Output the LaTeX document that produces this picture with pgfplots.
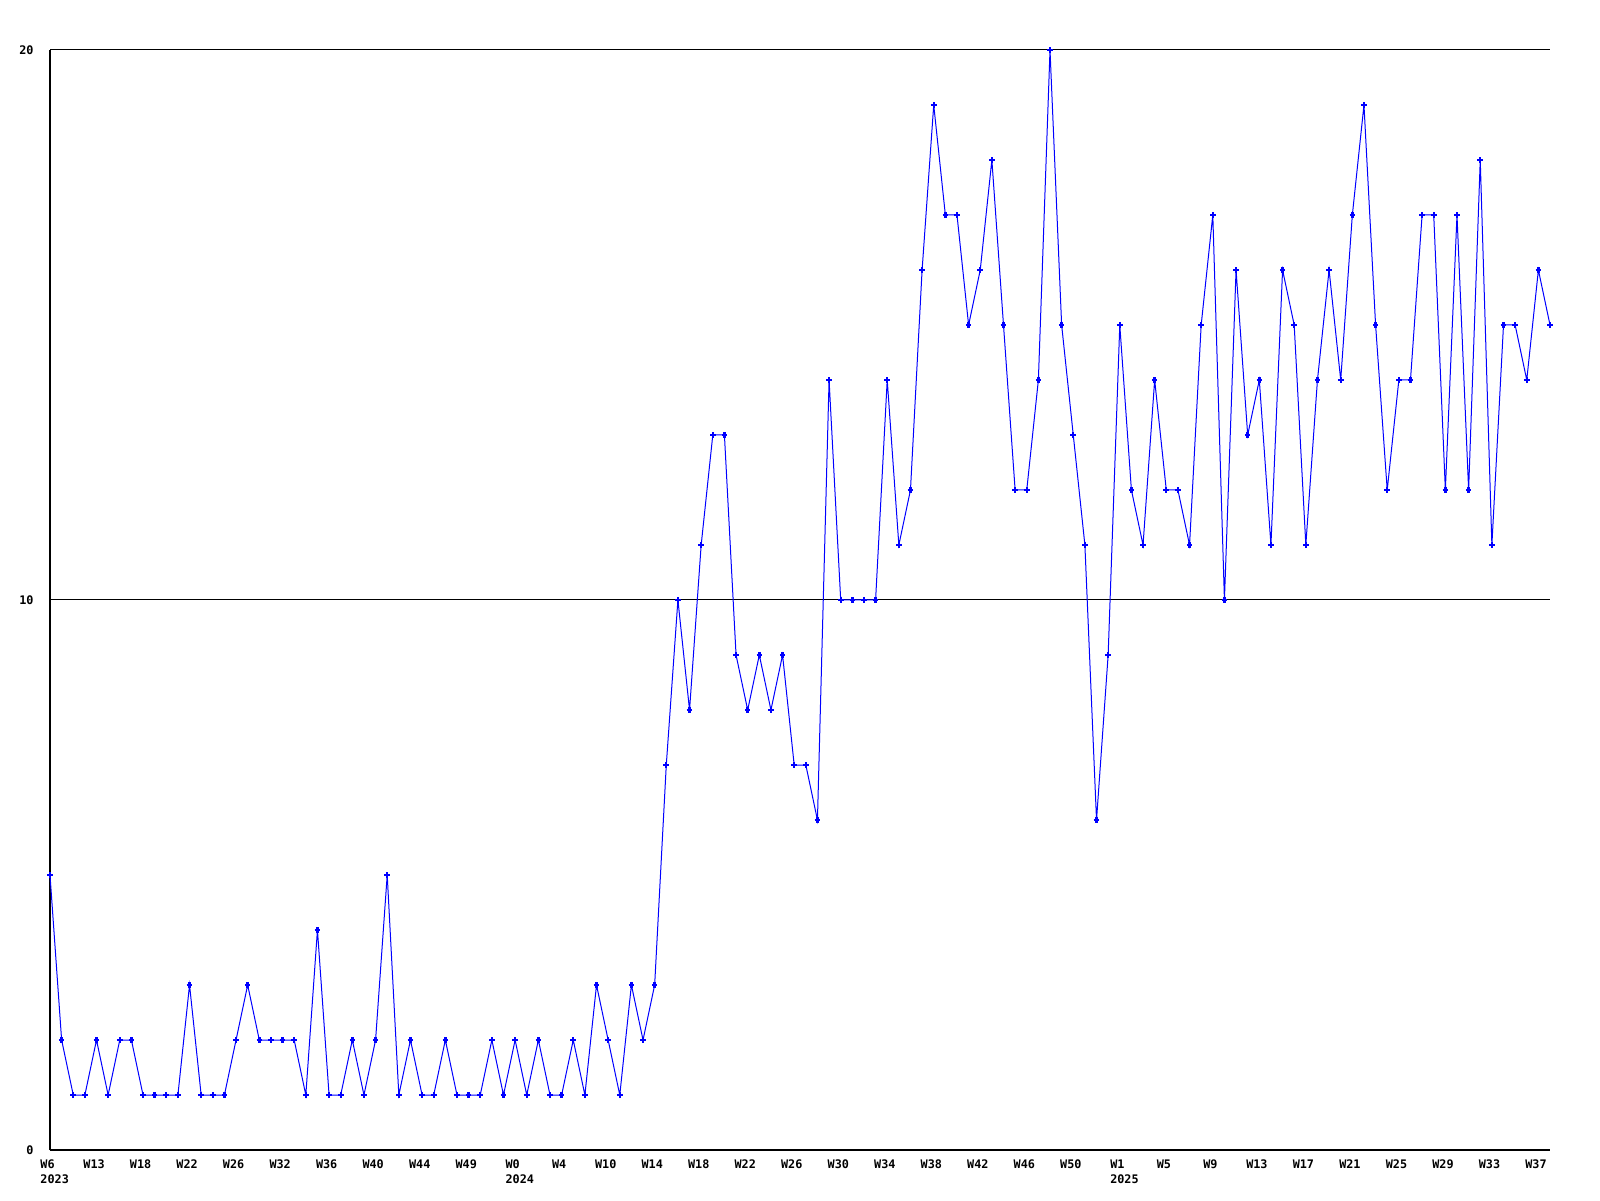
\documentclass[border=0pt]{standalone}
\usepackage{pgfplots}
\pgfplotsset{compat=1.18}
\usepackage{fontspec}
\setmonofont{DejaVu Sans Mono}
\pgfplotstableread{
x y
0 5
1 2
2 1
3 1
4 2
5 1
6 2
7 2
8 1
9 1
10 1
11 1
12 3
13 1
14 1
15 1
16 2
17 3
18 2
19 2
20 2
21 2
22 1
23 4
24 1
25 1
26 2
27 1
28 2
29 5
30 1
31 2
32 1
33 1
34 2
35 1
36 1
37 1
38 2
39 1
40 2
41 1
42 2
43 1
44 1
45 2
46 1
47 3
48 2
49 1
50 3
51 2
52 3
53 7
54 10
55 8
56 11
57 13
58 13
59 9
60 8
61 9
62 8
63 9
64 7
65 7
66 6
67 14
68 10
69 10
70 10
71 10
72 14
73 11
74 12
75 16
76 19
77 17
78 17
79 15
80 16
81 18
82 15
83 12
84 12
85 14
86 20
87 15
88 13
89 11
90 6
91 9
92 15
93 12
94 11
95 14
96 12
97 12
98 11
99 15
100 17
101 10
102 16
103 13
104 14
105 11
106 16
107 15
108 11
109 14
110 16
111 14
112 17
113 19
114 15
115 12
116 14
117 14
118 17
119 17
120 12
121 17
122 12
123 18
124 11
125 15
126 15
127 14
128 16
129 15
}\datatable
\begin{document}
\begin{tikzpicture}
\begin{axis}[
  scale only axis, width=750pt, height=550pt,
  xmin=0, xmax=129, ymin=0, ymax=20,
  axis x line=bottom, axis y line=left,
  axis line style={-, line width=0.9pt, black},
  ytick={0,10,20}, yticklabels={0,10,20},
  ymajorgrids, major grid style={black, line width=0.5pt},
  xtick={0,4,...,128},
  xticklabels={{W6\\\rlap{2023}},W13,W18,W22,W26,W32,W36,W40,W44,W49,{W0\\\rlap{2024}},W4,W10,W14,W18,W22,W26,W30,W34,W38,W42,W46,W50,{W1\\\rlap{2025}},W5,W9,W13,W17,W21,W25,W29,W33,W37},
  major tick length=0pt,
  tick label style={font=\ttfamily\bfseries\fontsize{5.9}{7.6}\selectfont, inner sep=0pt},
  xticklabel style={anchor=north, align=left, yshift=-4.8pt, xshift=-1.2pt},
  yticklabel style={anchor=east, xshift=-8pt},
  clip=false,
]
\addplot[color={rgb,255:red,0;green,0;blue,255}, line width=0.5pt, mark=+, mark size=1.4pt, mark options={line width=1.2pt}] table[x=x,y=y] {\datatable};
\end{axis}
\pgfresetboundingbox
\path ([shift={(-25pt,-25pt)}]current axis.south west) rectangle ([shift={(25pt,25pt)}]current axis.north east);
\end{tikzpicture}
\end{document}
